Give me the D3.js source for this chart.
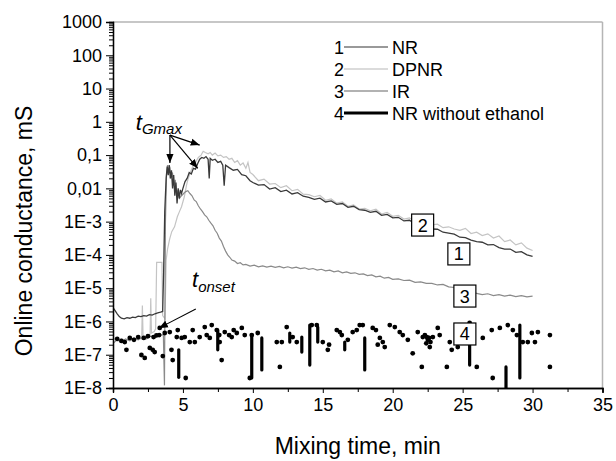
<!DOCTYPE html>
<html><head><meta charset="utf-8">
<script src="https://cdn.jsdelivr.net/npm/d3@7"></script>
<style>body{margin:0;background:#fff} text{font-family:"Liberation Sans",Arial,sans-serif;fill:#000}</style>
</head><body><svg id="c" width="616" height="461"></svg>
<script>
// ---------- data ----------
const xTicks=[0,5,10,15,20,25,30,35];
const xMinorTicks=[2.5,7.5,12.5,17.5,22.5,27.5,32.5];
const yTickValues=[1e3,1e2,1e1,1,1e-1,1e-2,1e-3,1e-4,1e-5,1e-6,1e-7,1e-8];
const yTickLabels=["1000","100","10","1","0,1","0,01","1E-3","1E-4","1E-5","1E-6","1E-7","1E-8"];
const seriesNames=["NR","DPNR","IR","NR without ethanol"];
const seriesNumbers=["1","2","3","4"];

const nr=[[0,2.6e-6],[0.15,2.1e-6],[0.3,1.7e-6],[0.45,1.4e-6],[0.6,1.25e-6],[0.8,1.2e-6],[1.0,1.3e-6],[1.2,1.25e-6],[1.4,1.35e-6],[1.6,1.3e-6],[1.8,1.45e-6],[2.0,1.4e-6],[2.2,1.5e-6],[2.4,1.45e-6],[2.6,1.6e-6],[2.8,1.55e-6],[3.0,1.7e-6],[3.2,1.8e-6],[3.4,1.9e-6],[3.55,2.0e-6],[3.62,3e-5],[3.7,2e-3],[3.8,0.02],[3.88,0.045],[3.95,0.025],[4.02,0.05],[4.1,0.02],[4.18,0.035],[4.26,0.01],[4.34,0.025],[4.42,6e-3],[4.5,0.015],[4.58,3.5e-3],[4.66,0.01],[4.74,5e-3],[4.82,9e-3],[4.9,7e-3],[5.0,0.01],[5.15,0.016],[5.3,0.02],[5.45,0.03],[5.6,0.027],[5.75,0.04],[5.9,0.038],[6.05,0.055],[6.2,0.075],[6.35,0.085],[6.5,0.08],[6.65,0.09],[6.8,0.075],[6.88,0.02],[6.95,0.08],[7.1,0.07],[7.3,0.075],[7.5,0.06],[7.7,0.065],[7.85,0.05],[7.95,0.012],[8.05,0.05],[8.3,0.042],[8.6,0.035],[8.9,0.037],[9.2,0.026],[9.5,0.024],[9.8,0.017],[10.0,0.015],[10.4,1.25e-2],[10.8,1.3e-2],[11.2,9.5e-3],[11.6,1.05e-2],[12.0,8.0e-3],[12.4,8.8e-3],[12.8,6.8e-3],[13.2,7.4e-3],[13.6,5.8e-3],[14.0,5.4e-3],[14.4,4.7e-3],[14.8,5.1e-3],[15.2,3.9e-3],[15.6,4.2e-3],[16.0,3.3e-3],[16.4,3.5e-3],[16.8,2.7e-3],[17.2,2.9e-3],[17.6,2.3e-3],[18.0,2.2e-3],[18.4,1.9e-3],[18.8,2.05e-3],[19.2,1.55e-3],[19.6,1.65e-3],[20.0,1.3e-3],[20.4,1.35e-3],[20.8,1.05e-3],[21.2,1.1e-3],[21.6,8.5e-4],[22.0,7.8e-4],[22.4,7.2e-4],[22.8,6.0e-4],[23.2,5.9e-4],[23.6,4.8e-4],[24.0,4.5e-4],[24.4,4.2e-4],[24.8,3.4e-4],[25.2,3.3e-4],[25.6,2.8e-4],[26.0,2.5e-4],[26.4,2.4e-4],[26.8,2.0e-4],[27.2,2.05e-4],[27.6,1.65e-4],[28.0,1.5e-4],[28.4,1.5e-4],[28.8,1.2e-4],[29.2,1.25e-4],[29.6,1.0e-4],[30.0,9.0e-5]];

const dpnr=[[0,3.2e-7],[0.3,2.6e-7],[0.6,3.0e-7],[0.9,2.7e-7],[1.2,3.1e-7],[1.5,2.9e-7],[1.8,3.3e-7],[2.05,3.0e-7],[2.1,3e-6],[2.15,3.5e-7],[2.4,3.6e-7],[2.65,4e-7],[2.7,5e-6],[2.75,4.5e-7],[2.95,5e-7],[3.05,6e-7],[3.12,6e-5],[3.5,6e-5],[3.55,1.5e-6],[3.72,1.2e-6],[3.8,7e-5],[3.9,1.5e-4],[4.05,3e-4],[4.2,5e-4],[4.4,7e-4],[4.6,1.4e-3],[4.75,2e-3],[4.9,2.8e-3],[5.1,5.6e-3],[5.25,1.2e-2],[5.35,1.8e-2],[5.5,2.8e-2],[5.7,4.5e-2],[5.9,6e-2],[6.1,8.5e-2],[6.3,0.1],[6.45,0.13],[6.6,0.12],[6.8,0.11],[6.95,0.12],[7.1,0.1],[7.3,0.115],[7.5,0.095],[7.7,0.1],[7.9,0.085],[8.1,0.09],[8.3,0.075],[8.5,0.08],[8.7,0.06],[8.9,0.068],[9.1,0.05],[9.3,0.058],[9.5,0.04],[9.65,0.06],[9.8,0.03],[10.0,0.026],[10.4,1.7e-2],[10.8,1.9e-2],[11.2,1.35e-2],[11.6,1.4e-2],[12.0,1.05e-2],[12.4,1.2e-2],[12.8,8.5e-3],[13.2,9.3e-3],[13.6,6.7e-3],[14.0,6.5e-3],[14.4,5.6e-3],[14.8,6.1e-3],[15.2,4.4e-3],[15.6,4.8e-3],[16.0,3.6e-3],[16.4,3.9e-3],[16.8,2.9e-3],[17.2,3.2e-3],[17.6,2.4e-3],[18.0,2.5e-3],[18.4,2.1e-3],[18.8,2.35e-3],[19.2,1.7e-3],[19.6,1.9e-3],[20.0,1.45e-3],[20.4,1.55e-3],[20.8,1.2e-3],[21.2,1.3e-3],[21.6,9.8e-4],[22.0,9.4e-4],[22.4,9.0e-4],[22.8,8.0e-4],[23.2,8.4e-4],[23.6,6.6e-4],[24.0,7.0e-4],[24.4,6.0e-4],[24.8,5.5e-4],[25.2,6.3e-4],[25.6,4.4e-4],[26.0,4.8e-4],[26.4,3.8e-4],[26.8,4.3e-4],[27.2,3.2e-4],[27.6,3.7e-4],[28.0,2.5e-4],[28.4,2.8e-4],[28.8,2.0e-4],[29.2,2.3e-4],[29.6,1.6e-4],[30.0,1.35e-4]];

const ir=[[0,2.2e-7],[0.3,2.8e-7],[0.6,2.4e-7],[0.9,3.0e-7],[1.2,2.6e-7],[1.5,3.2e-7],[1.8,2.8e-7],[2.1,3.3e-7],[2.4,3.0e-7],[2.7,3.6e-7],[3.0,3.3e-7],[3.3,3.8e-7],[3.6,4e-7],[3.68,1.2e-8],[3.75,1e-3],[3.83,0.03],[3.9,0.05],[3.98,0.03],[4.06,0.045],[4.15,0.02],[4.25,0.03],[4.35,0.012],[4.45,0.018],[4.55,6e-3],[4.65,9e-3],[4.75,5e-3],[4.9,6e-3],[5.05,7e-3],[5.2,8e-3],[5.35,8.5e-3],[5.5,7e-3],[5.65,6e-3],[5.8,4.5e-3],[5.95,4e-3],[6.1,3e-3],[6.25,2.4e-3],[6.4,2.0e-3],[6.55,1.6e-3],[6.7,1.4e-3],[6.85,1.1e-3],[7.0,9e-4],[7.15,7.5e-4],[7.3,5.5e-4],[7.45,4.5e-4],[7.6,3.2e-4],[7.75,2.6e-4],[7.9,1.8e-4],[8.05,1.3e-4],[8.2,1.0e-4],[8.35,8.5e-5],[8.5,7e-5],[8.7,6.5e-5],[8.9,5.5e-5],[9.1,5.8e-5],[9.3,5.0e-5],[9.5,5.2e-5],[9.8,4.6e-5],[10.1,4.9e-5],[10.4,4.4e-5],[10.7,4.7e-5],[11.0,4.3e-5],[11.3,4.6e-5],[11.6,4.2e-5],[11.9,4.5e-5],[12.2,4.1e-5],[12.5,4.4e-5],[12.8,4.0e-5],[13.1,4.3e-5],[13.4,3.9e-5],[13.7,4.1e-5],[14.0,3.7e-5],[14.3,3.9e-5],[14.6,3.5e-5],[14.9,3.7e-5],[15.2,3.3e-5],[15.5,3.5e-5],[15.8,3.1e-5],[16.1,3.3e-5],[16.4,2.9e-5],[16.7,3.1e-5],[17.0,2.8e-5],[17.3,2.9e-5],[17.6,2.6e-5],[17.9,2.7e-5],[18.2,2.4e-5],[18.5,2.5e-5],[18.8,2.2e-5],[19.1,2.3e-5],[19.4,2.0e-5],[19.7,2.1e-5],[20.0,1.85e-5],[20.4,1.9e-5],[20.8,1.7e-5],[21.2,1.75e-5],[21.6,1.5e-5],[22.0,1.55e-5],[22.4,1.4e-5],[22.8,1.4e-5],[23.2,1.25e-5],[23.6,1.3e-5],[24.0,1.1e-5],[24.4,1.05e-5],[25.0,9e-6],[25.6,7.5e-6],[26.0,7e-6],[26.4,6.4e-6],[26.8,6.8e-6],[27.2,6.0e-6],[27.6,6.4e-6],[28.0,5.8e-6],[28.4,6.2e-6],[28.8,5.6e-6],[29.2,6.0e-6],[29.6,5.5e-6],[30.0,5.8e-6]];

// NR without ethanol: scattered points and vertical drop segments [t, vTop, vBottom]
const nrNoEthDots=[[0.3,3.0e-7],[0.6,2.6e-7],[0.84,2.4e-7],[0.96,1.4e-7],[1.2,3.2e-7],[1.5,2.8e-7],[1.8,3.4e-7],[2.03,9.8e-8],[2.2,3.2e-7],[2.27,8e-8],[2.5,3.6e-7],[2.63,1.6e-7],[2.84,1.4e-7],[2.9,3.4e-7],[2.98,1.2e-7],[3.1,3.8e-7],[3.3,3.9e-7],[3.34,6.4e-7],[3.56,9.1e-8],[3.7,4.5e-7],[4.06,4.8e-7],[4.18,1.4e-7],[4.27,6.9e-8],[4.56,3.4e-7],[4.63,5.5e-7],[4.91,3.2e-7],[5.13,3.4e-7],[5.2,2e-8],[5.49,2.4e-7],[5.7,5.5e-7],[5.85,2.4e-7],[6.2,3.4e-7],[6.56,6.8e-7],[6.7,3.9e-7],[6.92,3.2e-7],[7.06,7.8e-7],[7.42,5.5e-7],[7.6,3.9e-7],[7.63,2.4e-7],[7.77,6.9e-8],[7.99,4.8e-7],[8.3,3.9e-7],[8.49,3.4e-7],[8.63,5.5e-7],[8.85,4.5e-7],[9.21,6.4e-7],[9.42,3.9e-7],[9.78,2e-8],[9.92,3.9e-7],[10.35,4.5e-7],[11.71,2.4e-7],[11.93,4.3e-8],[12.07,2.4e-7],[12.42,6.8e-7],[12.85,3.4e-7],[13.14,2.4e-7],[14.21,7.8e-7],[14.57,7.8e-7],[15.0,2.4e-7],[15.36,1.4e-7],[15.45,2e-7],[16.0,5.5e-7],[16.22,4.8e-7],[16.36,3.9e-7],[16.79,2.8e-7],[17.14,4.8e-7],[17.43,5.5e-7],[17.64,7.8e-7],[17.86,7.8e-7],[18.57,6.4e-7],[18.8,5.5e-7],[18.93,2.0e-7],[19.08,3.2e-7],[19.29,2.4e-7],[19.43,1.7e-7],[19.79,7.8e-7],[20.15,6.8e-7],[20.5,4.8e-7],[20.72,3.9e-7],[21.08,2.8e-7],[21.43,1.1e-7],[21.79,4.8e-7],[22.08,4.3e-8],[22.15,3.4e-7],[22.3,3.9e-7],[22.4,2.2e-7],[22.44,3.4e-7],[22.51,2.8e-7],[22.6,3.2e-7],[22.65,1.7e-7],[22.7,2.4e-7],[22.87,3.4e-7],[23.22,6.4e-7],[23.36,3.9e-7],[23.87,4.3e-8],[24.08,2.4e-7],[24.22,1.4e-7],[24.65,1.7e-7],[25.5,9e-7],[26.01,4.3e-8],[26.44,3.2e-7],[27.08,5.5e-7],[27.15,2.0e-8],[27.66,6.4e-7],[28.23,7.8e-7],[28.59,5.5e-7],[28.88,3.9e-7],[29.3,2.4e-7],[29.66,2.4e-7],[29.95,4.5e-7],[30.17,2.4e-7],[30.38,4.8e-7],[31.24,3.9e-7],[31.24,4.3e-8]];
const nrNoEthDrops=[[4.7,1.4e-7,2.1e-8],[7.49,5.5e-7,1.4e-7],[9.92,3.9e-7,2.0e-8],[10.64,3.2e-7,3.5e-8],[12.64,4.5e-7,2.4e-7],[13.5,3.4e-7,1.2e-7],[14.07,7.8e-7,4.9e-8],[14.64,6.8e-7,2.4e-7],[16.57,2.4e-7,1.4e-7],[18.0,3.2e-7,3.5e-8],[25.5,3.4e-7,4.9e-8],[28.1,4.3e-8,1e-8],[29.09,7.8e-7,2.0e-8]];

// box labels anchored at [t, value]
const boxLabels=[["2",22.14,7.9e-4],["1",24.73,1.07e-4],["3",25.16,5.8e-6],["4",25.16,4.2e-7]];

// ---------- chart ----------
const m={l:113,t:22,r:602.5,b:388};
const x=d3.scaleLinear().domain([0,35]).range([m.l,m.r]);
const y=d3.scaleLog().domain([1e-8,1e3]).range([m.b,m.t]);
const svg=d3.select("#c");
const defs=svg.append("defs");
defs.append("clipPath").attr("id","clip").append("rect")
  .attr("x",m.l).attr("y",m.t).attr("width",m.r-m.l).attr("height",m.b-m.t);
defs.append("marker").attr("id","arr").attr("viewBox","0 0 10 10").attr("refX",10).attr("refY",5)
  .attr("markerWidth",9).attr("markerHeight",9).attr("markerUnits","userSpaceOnUse").attr("orient","auto")
  .append("path").attr("d","M0,1 L10,5 L0,9 Z").attr("fill","#000");

// frame (top/right)
svg.append("line").attr("x1",m.l).attr("x2",m.r).attr("y1",m.t).attr("y2",m.t).attr("stroke","#b5b5b5").attr("stroke-width",1.5);
svg.append("line").attr("x1",m.r).attr("x2",m.r).attr("y1",m.t).attr("y2",m.b).attr("stroke","#b5b5b5").attr("stroke-width",1.5);

const plot=svg.append("g").attr("clip-path","url(#clip)");
const line=d3.line().x(d=>x(d[0])).y(d=>y(d[1]));
plot.append("path").datum(dpnr).attr("d",line).attr("fill","none").attr("stroke","#c4c4c4").attr("stroke-width",1.2);
plot.append("path").datum(ir).attr("d",line).attr("fill","none").attr("stroke","#8a8a8a").attr("stroke-width",1.2);
plot.append("path").datum(nr).attr("d",line).attr("fill","none").attr("stroke","#3a3a3a").attr("stroke-width",1.3);
plot.selectAll(".drop").data(nrNoEthDrops).enter().append("line")
  .attr("x1",d=>x(d[0])).attr("x2",d=>x(d[0])).attr("y1",d=>y(d[1])).attr("y2",d=>y(d[2]))
  .attr("stroke","#000").attr("stroke-width",3.2).attr("stroke-linecap","round");
plot.selectAll(".dot").data(nrNoEthDots).enter().append("circle")
  .attr("cx",d=>x(d[0])).attr("cy",d=>y(d[1])).attr("r",2.4).attr("fill","#000");

// axes
const gx=svg.append("g").attr("transform",`translate(0,${m.b})`)
  .call(d3.axisBottom(x).tickValues(xTicks).tickSize(5).tickPadding(4).tickFormat(d3.format("d")));
svg.append("g").attr("transform",`translate(0,${m.b})`)
  .call(d3.axisBottom(x).tickValues(xMinorTicks).tickSize(4).tickFormat(""));
const minorY=[];
for(let e=-8;e<3;e++)for(let k=2;k<10;k++)minorY.push(k*Math.pow(10,e));
svg.append("g").attr("transform",`translate(${m.l},0)`)
  .call(d3.axisLeft(y).tickValues(minorY).tickSize(4).tickFormat(""));
const gy=svg.append("g").attr("transform",`translate(${m.l},0)`)
  .call(d3.axisLeft(y).tickValues(yTickValues).tickSize(7).tickPadding(4).tickFormat((d,i)=>yTickLabels[i]));
svg.selectAll(".domain").attr("stroke","#000").attr("stroke-width",1.3);
svg.selectAll(".tick line").attr("stroke","#000").attr("stroke-width",1);
svg.selectAll(".tick text").attr("font-size",18).attr("font-family","Liberation Sans, Arial, sans-serif").attr("fill","#000");
gx.selectAll(".tick text").attr("dy","0.75em");

svg.append("text").attr("x",(m.l+m.r)/2).attr("y",454).attr("text-anchor","middle").attr("font-size",23).text("Mixing time, min");
svg.append("text").attr("transform","translate(32,231) rotate(-90)").attr("text-anchor","middle").attr("font-size",23).text("Online conductance, mS");

// legend
const legColors=["#777","#cfcfcf","#999","#000"];
const legWidths=[1.3,1.3,1.3,3.2];
seriesNames.forEach((n,i)=>{
  const cy=47+i*22;
  svg.append("text").attr("x",334).attr("y",cy+6.5).attr("font-size",18).text(seriesNumbers[i]);
  svg.append("line").attr("x1",344).attr("x2",388).attr("y1",cy).attr("y2",cy).attr("stroke",legColors[i]).attr("stroke-width",legWidths[i]);
  svg.append("text").attr("x",392).attr("y",cy+6.5).attr("font-size",18).text(n);
});

// box labels
boxLabels.forEach(b=>{
  const cx=x(b[1]),cy=y(b[2]);
  svg.append("rect").attr("x",cx-11).attr("y",cy-11).attr("width",22).attr("height",22).attr("fill","#fff").attr("stroke","#000").attr("stroke-width",1.2);
  svg.append("text").attr("x",cx).attr("y",cy+6.5).attr("text-anchor","middle").attr("font-size",18).text(b[0]);
});

// annotations
const gmaxFrom=[4.07,0.4];
[[4.07,0.058],[6.06,0.04],[6.2,0.2]].forEach(p=>{
  svg.append("line").attr("x1",x(gmaxFrom[0])).attr("y1",y(gmaxFrom[1])).attr("x2",x(p[0])).attr("y2",y(p[1]))
    .attr("stroke","#000").attr("stroke-width",1.2).attr("marker-end","url(#arr)");
});
const tg=svg.append("text").attr("x",x(1.63)).attr("y",y(0.55)).attr("font-style","italic");
tg.append("tspan").attr("font-size",22).text("t");
tg.append("tspan").attr("font-size",15).attr("dy",4).text("Gmax");
svg.append("line").attr("x1",x(5.92)).attr("y1",y(2.35e-6)).attr("x2",x(3.28)).attr("y2",y(6.3e-7))
  .attr("stroke","#000").attr("stroke-width",1.1).attr("marker-end","url(#arr)");
const to=svg.append("text").attr("x",x(5.65)).attr("y",y(1.1e-5)).attr("font-style","italic");
to.append("tspan").attr("font-size",22).text("t");
to.append("tspan").attr("font-size",15).attr("dy",5).text("onset");
</script></body></html>
